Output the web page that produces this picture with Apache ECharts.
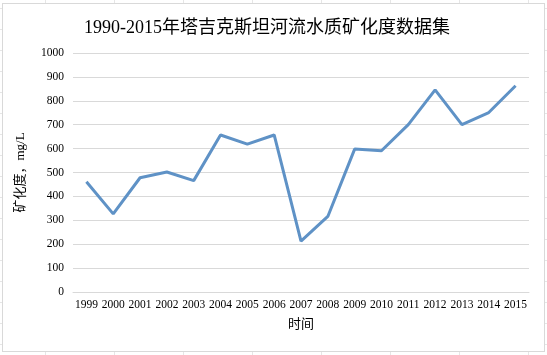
<!DOCTYPE html>
<html><head><meta charset="utf-8">
<script src="https://cdn.jsdelivr.net/npm/echarts@6/dist/echarts.min.js"></script>
<style>
html,body{margin:0;padding:0;background:#fff;}
#bg{position:absolute;left:0;top:0;width:547px;height:355px;
background-image:linear-gradient(to right,#e6e6e6 1px,transparent 1px),linear-gradient(to bottom,#e6e6e6 1px,transparent 1px);
background-size:69px 100%,100% 21px;background-position:45px 0,0 8px;}
#frame{position:absolute;left:2px;top:3px;width:541px;height:347px;border:1px solid #d9d9d9;background:#fff;}
#c{position:absolute;left:0;top:0;width:547px;height:355px;}
</style></head>
<body>
<div id="bg"></div><div id="frame"></div>
<div id="c"></div>
<script>
const years = ['1999','2000','2001','2002','2003','2004','2005','2006','2007','2008','2009','2010','2011','2012','2013','2014','2015'];
const mineralization = [461, 327, 478, 502, 466, 657, 619, 657, 213, 316, 598, 591, 700, 846, 700, 751, 863];
const yTicks = [0, 100, 200, 300, 400, 500, 600, 700, 800, 900, 1000];

const font = '"Liberation Serif","Noto Sans CJK SC",serif';
const chart = echarts.init(document.getElementById('c'), null, {renderer:'canvas'});
chart.setOption({
  backgroundColor: 'transparent',
  animation: false,
  title: {
    text: '1990-2015年塔吉克斯坦河流水质矿化度数据集',
    left: 79, top: 14,
    textStyle: {fontFamily: font, fontSize: 18, fontWeight: 'normal', color: '#000'}
  },
  grid: {left: 73, right: 18, top: 53, bottom: 63, containLabel: false},
  xAxis: {
    type: 'category', data: years, boundaryGap: true,
    name: '时间', nameLocation: 'middle', nameGap: 26,
    nameTextStyle: {fontFamily: font, fontSize: 13, color: '#000'},
    axisLine: {lineStyle: {color: '#d9d9d9', width: 1}},
    axisTick: {show: false},
    axisLabel: {fontFamily: font, fontSize: 11.5, color: '#000', margin: 7, interval: 0}
  },
  yAxis: {
    type: 'value', min: yTicks[0], max: yTicks[yTicks.length-1], interval: 100,
    name: '矿化度，mg/L', nameLocation: 'middle', nameGap: 46, nameRotate: 90,
    nameTextStyle: {fontFamily: font, fontSize: 13, color: '#000'},
    axisLine: {show: false}, axisTick: {show: false},
    axisLabel: {fontFamily: font, fontSize: 11.5, color: '#000', margin: 9, formatter: v => String(v)},
    splitLine: {lineStyle: {color: '#d9d9d9', width: 1}}
  },
  series: [{
    type: 'line', data: mineralization, showSymbol: false, symbol: 'none',
    lineStyle: {color: '#5f92c6', width: 3}, itemStyle: {color: '#5f92c6'}
  }]
});
</script>
</body></html>
